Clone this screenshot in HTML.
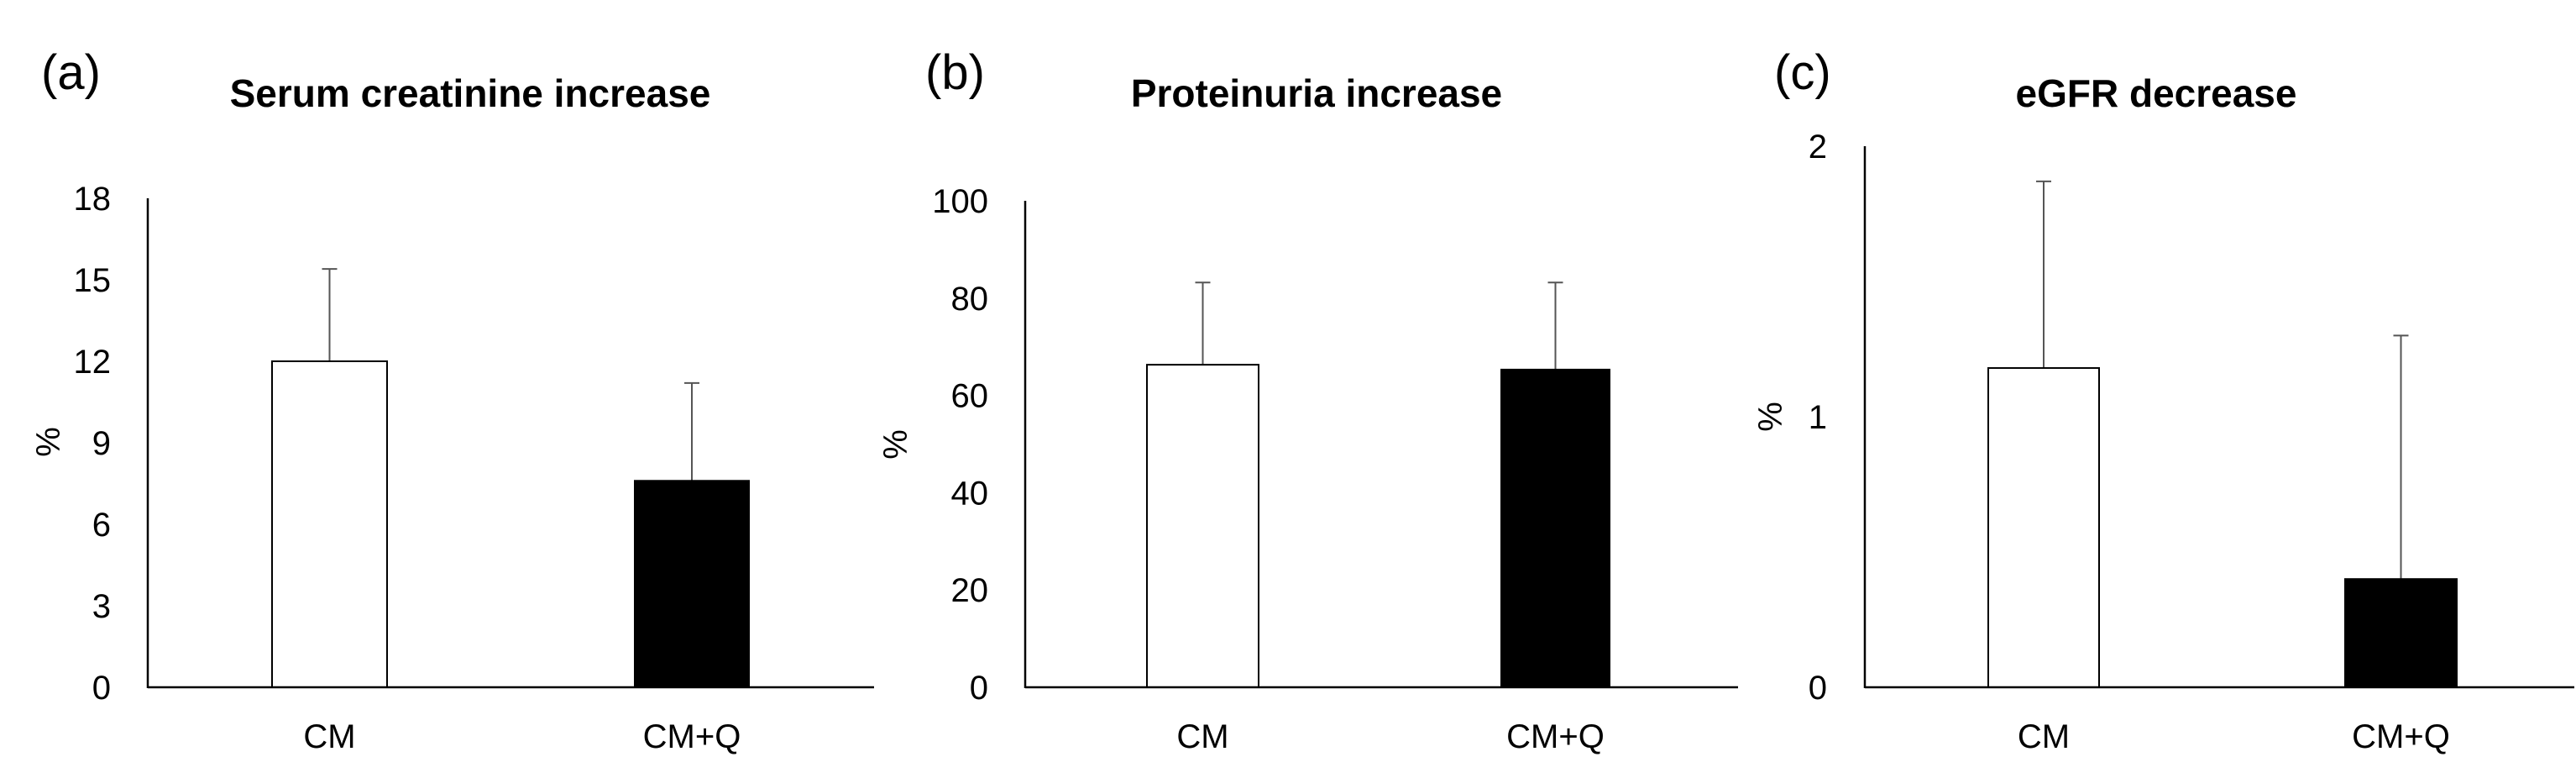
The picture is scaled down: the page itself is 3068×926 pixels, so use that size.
<!DOCTYPE html>
<html><head><meta charset="utf-8"><style>
html,body{margin:0;padding:0;background:#fff}
svg{display:block}
text{font-family:"Liberation Sans",sans-serif;fill:#000}
</style></head><body>
<svg id="fig" width="3068" height="926" viewBox="0 0 3068 926"></svg>
<script>
const categories = ["CM", "CM+Q"];
const panelLetters = ["(a)", "(b)", "(c)"];
const panelTitles = ["Serum creatinine increase", "Proteinuria increase", "eGFR decrease"];
const valuesA = [12.0, 7.6];
const errorsA = [15.4, 11.2];
const ticksA = [0, 3, 6, 9, 12, 15, 18];
const valuesB = [66.3, 65.3];
const errorsB = [83.2, 83.2];
const ticksB = [0, 20, 40, 60, 80, 100];
const valuesC = [1.18, 0.40];
const errorsC = [1.87, 1.30];
const ticksC = [0, 1, 2];

const NS = "http://www.w3.org/2000/svg";
const svg = document.getElementById("fig");
function mk(tag, attrs, parent, txt) {
  const e = document.createElementNS(NS, tag);
  for (const k in attrs) e.setAttribute(k, attrs[k]);
  if (txt !== undefined) e.textContent = txt;
  parent.appendChild(e);
  return e;
}
const layouts = [
  {ax:176, xEnd:1041, top:236, bars:[[324,461],[756,892]], tickX:132, pctX:58, pctY:526, titleX:560, letterX:49, vals:valuesA, errs:errorsA, ticks:ticksA},
  {ax:1221, xEnd:2070, top:239, bars:[[1366,1499],[1788,1917]], tickX:1177, pctX:1067, pctY:529, titleX:1568, letterX:1102, vals:valuesB, errs:errorsB, ticks:ticksB},
  {ax:2221, xEnd:3066, top:174, bars:[[2368,2500],[2793,2926]], tickX:2176, pctX:2109, pctY:496, titleX:2568, letterX:2113, vals:valuesC, errs:errorsC, ticks:ticksC}
];
const zeroY = 818;
layouts.forEach((L, p) => {
  const g = mk("g", {}, svg);
  
  
  const tmax = L.ticks[L.ticks.length - 1];
  const y = v => zeroY - (v / tmax) * (zeroY - L.top);
  const lt = mk("text", {x:L.letterX, y:106, "font-size":58}, g, panelLetters[p]);
  
  
  const tt = mk("text", {x:L.titleX, y:127, "font-size":46, "font-weight":"bold", "text-anchor":"middle"}, g, panelTitles[p]);
  
  
  L.ticks.forEach(t => {
    const e = mk("text", {x:L.tickX, y:y(t) + 14, "font-size":40, "text-anchor":"end"}, g, String(t));
    
    
  });
  const pc = mk("text", {x:0, y:0, "font-size":40, "text-anchor":"middle", transform:`translate(${L.pctX + 13},${L.pctY}) rotate(-90)`}, g, "%");
  
  
  L.vals.forEach((v, i) => {
    const [x0, x1] = L.bars[i];
    const cx = (x0 + x1) / 2;
    const eb = mk("g", {stroke:"#555", "stroke-width":2}, g);
    
    
    mk("line", {x1:cx, x2:cx, y1:y(v), y2:y(L.errs[i])}, eb);
    mk("line", {x1:cx - 9, x2:cx + 9, y1:y(L.errs[i]), y2:y(L.errs[i])}, eb);
    const r = mk("rect", {x:x0, y:y(v), width:x1 - x0, height:zeroY - y(v), fill:i === 0 ? "#fff" : "#000", stroke:"#000", "stroke-width":2}, g);
    
    
    const cl = mk("text", {x:cx, y:890, "font-size":40, "text-anchor":"middle"}, g, categories[i]);
    
    
  });
  const ya = mk("line", {x1:L.ax, x2:L.ax, y1:L.top, y2:zeroY + 1, stroke:"#000", "stroke-width":2.5}, g);
  
  
  const xa = mk("line", {x1:L.ax, x2:L.xEnd, y1:zeroY, y2:zeroY, stroke:"#000", "stroke-width":2.5}, g);
  
  
});
</script>
</body></html>
